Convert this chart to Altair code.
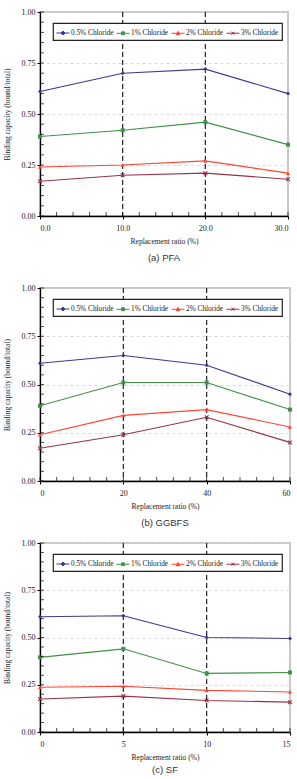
import altair as alt
import pandas as pd
import numpy as np

SERIES = ["0.5% Chloride", "1% Chloride", "2% Chloride", "3% Chloride"]
COLORS = ["#3a3a8e", "#3f9245", "#ff4433", "#993344"]

# (a) PFA
pfa_x = [0, 10, 20, 30]
pfa_05 = [0.61, 0.70, 0.72, 0.60]
pfa_1 = [0.39, 0.42, 0.46, 0.35]
pfa_2 = [0.24, 0.25, 0.27, 0.21]
pfa_3 = [0.17, 0.20, 0.21, 0.18]
pfa_xticks = [0, 10, 20, 30]
pfa_dividers = [10, 20]

# (b) GGBFS
ggbfs_x = [0, 20, 40, 60]
ggbfs_05 = [0.61, 0.65, 0.60, 0.45]
ggbfs_1 = [0.39, 0.51, 0.51, 0.37]
ggbfs_2 = [0.24, 0.34, 0.37, 0.28]
ggbfs_3 = [0.17, 0.24, 0.33, 0.20]
ggbfs_xticks = [0, 20, 40, 60]
ggbfs_dividers = [20, 40]

# (c) SF
sf_x = [0, 5, 10, 15]
sf_05 = [0.61, 0.615, 0.50, 0.495]
sf_1 = [0.395, 0.44, 0.31, 0.315]
sf_2 = [0.237, 0.242, 0.22, 0.212]
sf_3 = [0.175, 0.19, 0.167, 0.158]
sf_xticks = [0, 5, 10, 15]
sf_dividers = [5, 10]

y_ticks = [0, 0.25, 0.5, 0.75, 1.0]

SERIF = "Liberation Serif"
SANS = "Liberation Sans"

LEGEND_PATHS = [
    "M-1,0L1,0M0,-0.3L0.3,0L0,0.3L-0.3,0Z",
    "M-1,0L1,0M-0.22,-0.22L0.22,-0.22L0.22,0.22L-0.22,0.22Z",
    "M-1,0L1,0M0,-0.28L0.28,0.22L-0.28,0.22Z",
    "M-1,0L1,0M-0.24,-0.24L0.24,0.24M-0.24,0.24L0.24,-0.24",
]
POINT_SHAPES = ["diamond", "square", "triangle-up", "M-1,-1L1,1M-1,1L1,-1"]


def color_enc():
    return alt.Color("series:N", scale=alt.Scale(domain=SERIES, range=COLORS),
                     legend=alt.Legend(title=None))


def make_panel(xs, series_vals, xticks, dividers, minor_step, fmt, caption, width, height, cap_offset):
    rows = []
    for name, vals in zip(SERIES, series_vals):
        for x, v in zip(xs, vals):
            rows.append({"x": x, "y": v, "series": name})
    df = pd.DataFrame(rows)
    xmax = xticks[-1]
    xdom = [xticks[0], xmax]

    xenc = alt.X("x:Q", scale=alt.Scale(domain=xdom, nice=False, zero=False),
                 axis=alt.Axis(values=xticks, format=fmt, title="Replacement ratio (%)",
                               grid=False, tickSize=3, labelPadding=5, titlePadding=5))
    yenc = alt.Y("y:Q", scale=alt.Scale(domain=[0, 1], nice=False),
                 axis=alt.Axis(values=y_ticks, format=".2f", title="Binding capacity (bound/total)",
                               grid=True, gridDash=[3, 3], gridColor="#d0d0d0", gridWidth=0.8,
                               tickSize=3, labelPadding=2, titlePadding=10))

    layers = []
    # legend-only layer (no marks drawn)
    legend_layer = alt.Chart(df).mark_point(filled=False, strokeWidth=1).transform_filter(
        "false").encode(
        x=xenc, y=yenc,
        color=color_enc(),
        shape=alt.Shape("series:N", scale=alt.Scale(domain=SERIES, range=LEGEND_PATHS),
                        legend=alt.Legend(title=None)),
    )
    layers.append(legend_layer)

    # vertical dashed dividers
    div_df = pd.DataFrame({"x": dividers})
    layers.append(alt.Chart(div_df).mark_rule(color="#222222", strokeWidth=1.2, strokeDash=[5, 3]).encode(
        x=alt.X("x:Q")))
    layers.append(alt.Chart(df).mark_line(strokeWidth=1.1).encode(
        x="x:Q", y="y:Q", color=color_enc(), detail="series:N"))
    for i, name in enumerate(SERIES):
        shp = POINT_SHAPES[i]
        if i == 3:
            mk = alt.Chart(df).mark_point(shape=shp, filled=False, size=14, strokeWidth=1.1, opacity=1)
        else:
            mk = alt.Chart(df).mark_point(shape=shp, filled=True, size=16, opacity=1)
        layers.append(mk.transform_filter(alt.datum.series == name).encode(
            x="x:Q", y="y:Q", color=color_enc()))

    # minor ticks (inward)
    xminor = pd.DataFrame({"t": np.arange(xticks[0], xmax + 1e-9, minor_step)})
    layers.append(alt.Chart(xminor).mark_tick(orient="vertical", size=4, thickness=1, color="black",
                                              yOffset=-2).encode(
        x=alt.X("t:Q"), y=alt.datum(0)))
    yminor = pd.DataFrame({"t": np.round(np.arange(0, 1.0001, 0.05), 2)})
    layers.append(alt.Chart(yminor).mark_tick(orient="horizontal", size=4, thickness=1, color="black",
                                              xOffset=2).encode(
        y=alt.Y("t:Q"), x=alt.datum(xticks[0])))

    return alt.layer(*layers).properties(
        width=width, height=height,
        title=alt.TitleParams(caption, orient="bottom", font=SANS, fontSize=9.5,
                              fontWeight="normal", color="#333333", offset=cap_offset),
    )


p1 = make_panel(pfa_x, [pfa_05, pfa_1, pfa_2, pfa_3], pfa_xticks, pfa_dividers, 2, ".1f",
                "(a)  PFA", 248, 204, 8)
p2 = make_panel(ggbfs_x, [ggbfs_05, ggbfs_1, ggbfs_2, ggbfs_3], ggbfs_xticks, ggbfs_dividers, 4, "d",
                "(b)  GGBFS", 250, 193, 8)
p3 = make_panel(sf_x, [sf_05, sf_1, sf_2, sf_3], sf_xticks, sf_dividers, 1, "d",
                "(c)  SF", 250, 189, 4)

inner = alt.vconcat(p2, p3, spacing=10).resolve_scale(
    color="independent", shape="independent").resolve_legend(color="independent", shape="independent")

chart = alt.vconcat(p1, inner, spacing=20).resolve_scale(
    color="independent", shape="independent").resolve_legend(
    color="independent", shape="independent").properties(
    padding={"left": 2, "top": 7, "right": 0, "bottom": 0},
).configure_view(
    stroke="#c8c8c8", strokeWidth=2,
).configure_axis(
    labelFont=SERIF, labelFontSize=8, labelColor="#222222",
    titleFont=SERIF, titleFontSize=7.5, titleFontWeight="normal", titleColor="#222222",
    domainColor="black", domainWidth=1.3, tickColor="black", tickWidth=1,
).configure_legend(
    orient="none", legendX=13, legendY=11, direction="horizontal", columns=4,
    strokeColor="#222222", strokeWidth=1.2, fillColor="white", padding=3,
    columnPadding=0, labelOffset=1, symbolSize=169, symbolStrokeWidth=1,
    labelFont=SERIF, labelFontSize=7.3, labelColor="#222222", cornerRadius=0,
    symbolOpacity=1,
)

chart.save("out.html", embed_options={"renderer": "svg", "actions": False})
